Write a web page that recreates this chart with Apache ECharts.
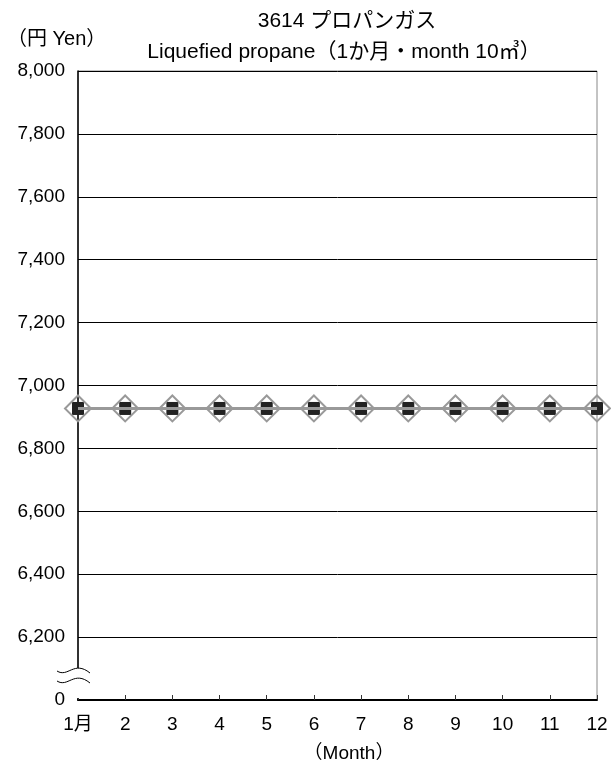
<!DOCTYPE html>
<html>
<head>
<meta charset="utf-8">
<script src="https://cdn.jsdelivr.net/npm/echarts@6/dist/echarts.min.js"></script>
<style>html,body{margin:0;padding:0;background:#fff;}#c{width:611px;height:769px;}</style>
</head>
<body>
<div id="c"></div>
<script>
const months = ['1月','2','3','4','5','6','7','8','9','10','11','12'];
const squareSeries = [6927,6927,6927,6927,6927,6927,6927,6927,6927,6927,6927,6927];
const diamondSeries = [6927,6927,6927,6927,6927,6927,6927,6927,6927,6927,6927,6927];
const yMin = 6000, yMax = 8000, yStep = 200;
const titleLine1 = '3614 プロパンガス';
const titleLine2 = 'Liquefied propane（1か月・month 10㎥）';
const yName = '（円 Yen）';
const xName = '（Month）';

const FONT = "'Liberation Sans', 'Noto Sans CJK JP', sans-serif";
const chart = echarts.init(document.getElementById('c'), null, {renderer: 'canvas'});
const option = {
  animation: false,
  backgroundColor: '#fff',
  textStyle: {fontFamily: FONT},
  title: [
    {text: titleLine1, left: 342, top: 6, textAlign: 'center', textStyle: {fontSize: 21, fontWeight: 'normal', color: '#000', fontFamily: FONT}},
    {text: titleLine2, left: 339, top: 37, textAlign: 'center', textStyle: {fontSize: 21, fontWeight: 'normal', color: '#000', fontFamily: FONT}},
    {text: yName, left: 2, top: 24, textStyle: {fontSize: 20, fontWeight: 'normal', color: '#000', fontFamily: FONT}},
    {text: xName, left: 344, top: 739, textAlign: 'center', textStyle: {fontSize: 19, fontWeight: 'normal', color: '#000', fontFamily: FONT}}
  ],
  grid: {left: 78, right: 14, top: 71, bottom: 69, show: true, borderColor: '#888', borderWidth: 1, backgroundColor: 'transparent'},
  xAxis: {
    type: 'category', data: months, boundaryGap: false,
    axisLine: {show: true, lineStyle: {color: '#000', width: 2}},
    axisTick: {show: true, inside: true, length: 5, lineStyle: {color: '#333'}},
    axisLabel: {color: '#000', fontSize: 19, margin: 15, fontFamily: FONT},
    splitLine: {show: false}
  },
  yAxis: {
    type: 'value', min: yMin, max: yMax, interval: yStep,
    axisLine: {show: true, lineStyle: {color: '#000', width: 1.5}},
    axisTick: {show: false},
    axisLabel: {color: '#000', fontSize: 19, margin: 13, fontFamily: FONT,
      formatter: v => v === yMin ? '0' : v.toLocaleString('en-US')},
    splitLine: {show: true, lineStyle: {color: '#000', width: 1}}
  },
  series: [
    {
      type: 'line', data: squareSeries, symbol: 'rect', symbolSize: [12, 13],
      itemStyle: {color: '#222'}, lineStyle: {width: 0, opacity: 0}, z: 2
    },
    {
      type: 'line', data: diamondSeries, symbol: 'diamond', symbolSize: 26,
      itemStyle: {color: 'rgba(255,255,255,0)', borderColor: '#999', borderWidth: 2},
      lineStyle: {color: '#999', width: 3}, z: 3
    }
  ]
};
chart.setOption(option);

// axis break decoration on the y axis between 0 and the first tick
const ax = chart.convertToPixel({gridIndex: 0}, [0, yMin]);
const x0 = ax[0], yb = ax[1];
const wave = (dy) => ({
  type: 'bezierCurve', z: 100,
  shape: {x1: x0 - 21, y1: yb - 29 + dy, cpx1: x0 - 10, cpy1: yb - 22 + dy, cpx2: x0 - 4, cpy2: yb - 40 + dy, x2: x0 + 12, y2: yb - 27 + dy},
  style: {stroke: '#000', lineWidth: 1, fill: null}
});
chart.setOption({
  graphic: [
    {type: 'rect', z: 99, shape: {x: x0 - 8, y: yb - 32, width: 16, height: 30}, style: {fill: '#fff'}},
    wave(0),
    wave(10)
  ]
});
</script>
</body>
</html>
